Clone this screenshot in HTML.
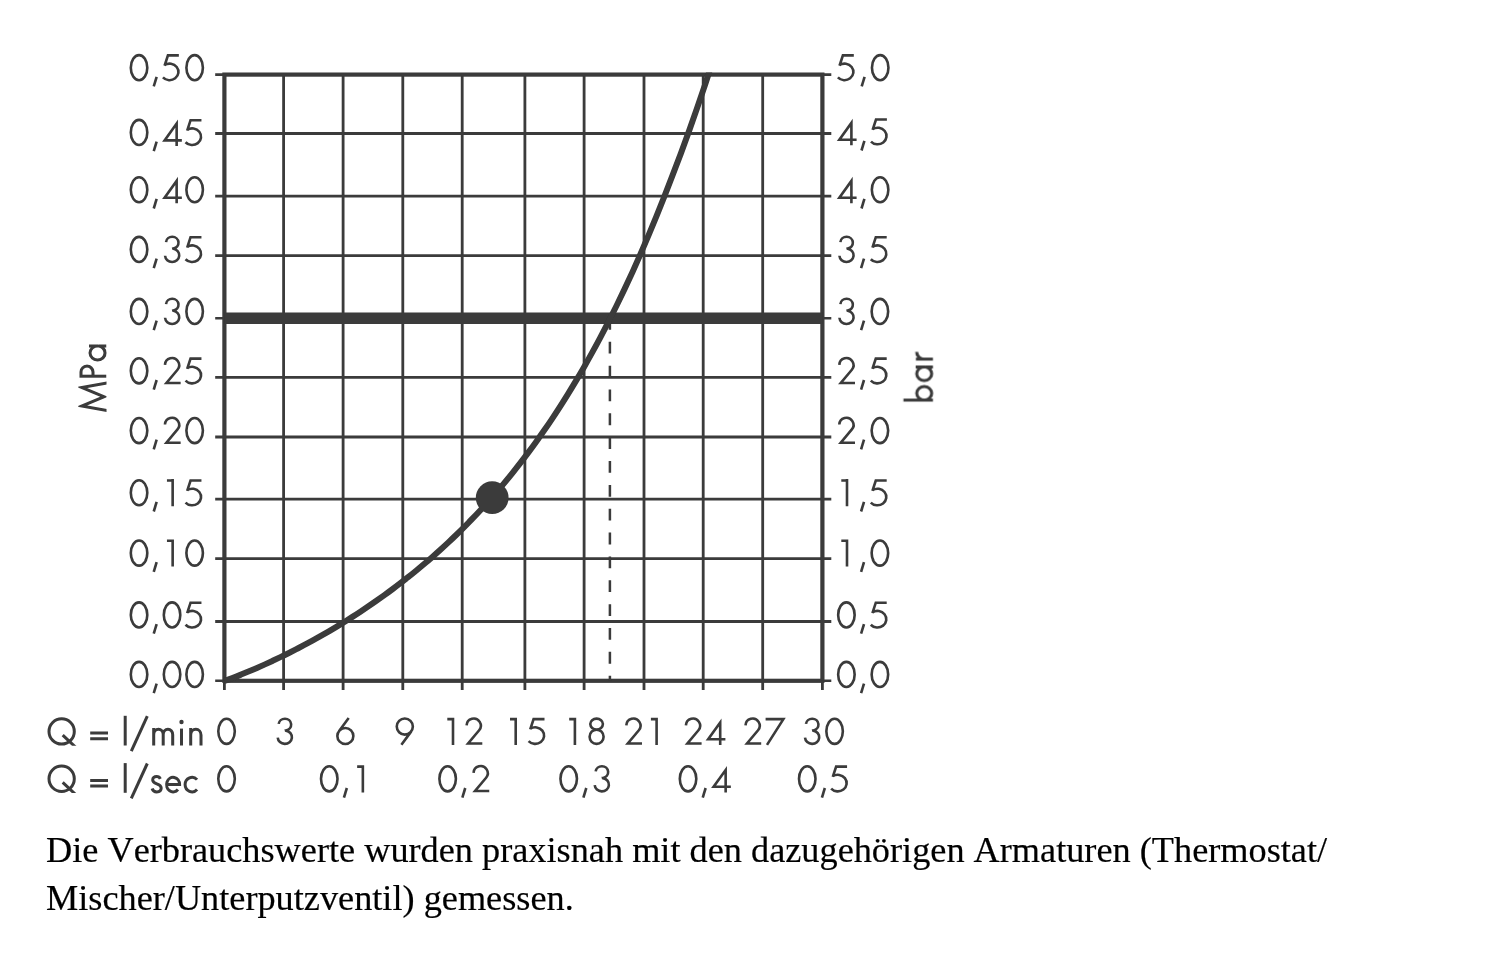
<!DOCTYPE html>
<html lang="de"><head><meta charset="utf-8"><title>Durchflussdiagramm</title>
<style>
html,body{margin:0;padding:0;background:#fff;}
body{width:1500px;height:956px;position:relative;overflow:hidden;font-family:"Liberation Serif",serif;}
.note{position:absolute;left:46.3px;top:826px;margin:0;font-family:"Liberation Serif",serif;font-size:36.28px;line-height:48px;will-change:transform;color:#000;white-space:nowrap;font-kerning:none;font-variant-ligatures:none;-webkit-text-stroke:0.2px #000;filter:blur(0.4px);}
.l2{letter-spacing:0;}
.w{position:relative;}
</style></head><body>
<svg width="1500" height="956" viewBox="0 0 1500 956" style="position:absolute;left:0;top:0">
<defs><filter id="soft" x="0" y="0" width="1500" height="956" filterUnits="userSpaceOnUse"><feGaussianBlur stdDeviation="0.42"/></filter><clipPath id="plot"><rect x="210" y="72.5" width="640" height="620"/></clipPath></defs>
<g filter="url(#soft)">
<g stroke="#3a3a3a" fill="none">
<line x1="283.6" y1="74.6" x2="283.6" y2="690.0" stroke-width="2.8"/>
<line x1="343.1" y1="74.6" x2="343.1" y2="690.0" stroke-width="2.8"/>
<line x1="402.8" y1="74.6" x2="402.8" y2="690.0" stroke-width="2.8"/>
<line x1="462.2" y1="74.6" x2="462.2" y2="690.0" stroke-width="2.8"/>
<line x1="524.9" y1="74.6" x2="524.9" y2="690.0" stroke-width="2.8"/>
<line x1="584.1" y1="74.6" x2="584.1" y2="690.0" stroke-width="2.8"/>
<line x1="644.0" y1="74.6" x2="644.0" y2="690.0" stroke-width="2.8"/>
<line x1="703.2" y1="74.6" x2="703.2" y2="690.0" stroke-width="2.8"/>
<line x1="762.7" y1="74.6" x2="762.7" y2="690.0" stroke-width="2.8"/>
<line x1="215.2" y1="133.5" x2="831.3" y2="133.5" stroke-width="2.8"/>
<line x1="215.2" y1="196.1" x2="831.3" y2="196.1" stroke-width="2.8"/>
<line x1="215.2" y1="255.7" x2="831.3" y2="255.7" stroke-width="2.8"/>
<line x1="215.2" y1="377.4" x2="831.3" y2="377.4" stroke-width="2.8"/>
<line x1="215.2" y1="437.0" x2="831.3" y2="437.0" stroke-width="2.8"/>
<line x1="215.2" y1="499.2" x2="831.3" y2="499.2" stroke-width="2.8"/>
<line x1="215.2" y1="558.7" x2="831.3" y2="558.7" stroke-width="2.8"/>
<line x1="215.2" y1="621.5" x2="831.3" y2="621.5" stroke-width="2.8"/>
<line x1="215.2" y1="74.6" x2="831.3" y2="74.6" stroke-width="2.6"/>
<line x1="215.2" y1="680.8" x2="831.3" y2="680.8" stroke-width="2.6"/>
<line x1="215.2" y1="318.2" x2="831.3" y2="318.2" stroke-width="2.6"/>
<rect x="224.4" y="74.6" width="598.0" height="606.2" stroke-width="4.2"/>
<line x1="224.4" y1="680.8" x2="224.4" y2="690" stroke-width="2.8"/>
<line x1="822.4" y1="680.8" x2="822.4" y2="690" stroke-width="2.8"/>
<line x1="224.4" y1="318.2" x2="822.4" y2="318.2" stroke-width="11.4"/>
<line x1="609.9" y1="317.95" x2="609.9" y2="680.8" stroke-width="2.5" stroke-dasharray="11.8 12.05"/>
<path d="M224.40 681.00 C225.73 680.50 229.73 679.02 232.40 677.99 C235.07 676.97 237.73 675.92 240.40 674.85 C243.07 673.78 245.73 672.69 248.40 671.57 C251.07 670.46 253.73 669.32 256.40 668.16 C259.07 667.00 261.73 665.82 264.40 664.62 C267.07 663.42 269.73 662.19 272.40 660.95 C275.07 659.70 277.73 658.43 280.40 657.14 C283.07 655.86 285.73 654.54 288.40 653.21 C291.07 651.88 293.73 650.53 296.40 649.15 C299.07 647.77 301.73 646.38 304.40 644.96 C307.07 643.53 309.73 642.09 312.40 640.63 C315.07 639.16 317.73 637.67 320.40 636.16 C323.07 634.65 325.73 633.12 328.40 631.56 C331.07 630.00 333.73 628.42 336.40 626.82 C339.07 625.21 341.73 623.58 344.40 621.93 C347.07 620.27 349.73 618.60 352.40 616.89 C355.07 615.19 357.73 613.45 360.40 611.70 C363.07 609.94 365.73 608.15 368.40 606.34 C371.07 604.53 373.73 602.69 376.40 600.82 C379.07 598.95 381.73 597.06 384.40 595.13 C387.07 593.20 389.73 591.24 392.40 589.25 C395.07 587.27 397.73 585.25 400.40 583.19 C403.07 581.14 405.73 579.06 408.40 576.94 C411.07 574.82 413.73 572.66 416.40 570.47 C419.07 568.28 421.73 566.06 424.40 563.80 C427.07 561.54 429.73 559.24 432.40 556.90 C435.07 554.56 437.73 552.19 440.40 549.77 C443.07 547.35 445.73 544.89 448.40 542.39 C451.07 539.89 453.73 537.34 456.40 534.76 C459.07 532.17 461.73 529.53 464.40 526.85 C467.07 524.17 469.73 521.45 472.40 518.67 C475.07 515.90 477.73 513.07 480.40 510.20 C483.07 507.32 485.73 504.39 488.40 501.41 C491.07 498.43 493.73 495.40 496.40 492.31 C499.07 489.22 501.73 486.07 504.40 482.87 C507.07 479.66 509.73 476.40 512.40 473.08 C515.07 469.75 517.73 466.37 520.40 462.92 C523.07 459.47 525.73 455.96 528.40 452.38 C531.07 448.80 533.73 445.16 536.40 441.44 C539.07 437.73 541.73 433.94 544.40 430.08 C547.07 426.23 549.73 422.30 552.40 418.29 C555.07 414.29 557.73 410.21 560.40 406.05 C563.07 401.89 565.73 397.65 568.40 393.33 C571.07 389.01 573.73 384.61 576.40 380.12 C579.07 375.63 581.73 371.06 584.40 366.40 C587.07 361.74 589.73 356.99 592.40 352.15 C595.07 347.31 597.73 342.37 600.40 337.34 C603.07 332.31 605.73 327.19 608.40 321.96 C611.07 316.74 613.73 311.41 616.40 305.99 C619.07 300.56 621.73 295.03 624.40 289.39 C627.07 283.75 629.73 278.01 632.40 272.15 C635.07 266.29 637.73 260.32 640.40 254.24 C643.07 248.16 645.73 241.96 648.40 235.64 C651.07 229.32 653.73 222.89 656.40 216.33 C659.07 209.77 661.71 203.09 664.40 196.27 C667.09 189.46 669.79 182.52 672.51 175.45 C675.23 168.38 677.98 161.18 680.71 153.83 C683.44 146.49 686.18 139.02 688.91 131.40 C691.64 123.78 694.38 116.02 697.11 108.11 C699.84 100.20 702.58 92.15 705.31 83.95 C708.04 75.74 710.78 67.39 713.51 58.88 C716.24 50.37 720.34 37.21 721.71 32.88" stroke-width="6.0" clip-path="url(#plot)"/>
</g>
<circle cx="492.2" cy="497.7" r="16.35" fill="#3a3a3a"/>
<g stroke="#3a3a3a" fill="none" stroke-width="2.6" stroke-linejoin="miter" stroke-linecap="butt">
<path transform="translate(127.75 81.20)" d="M3.05 -13.55a8.25 12.55 0 1 0 16.5 0a8.25 12.55 0 1 0 -16.5 0z"/>
<path transform="translate(150.35 81.20)" d="M6.3 -4.4L3.4 5.2"/>
<path transform="translate(160.75 81.20)" d="M18.10 -25.8H7.20L3.83 -15.44M3.82 -16.18A8.90 8.30 0 0 1 15.94 -14.26A8.90 8.30 0 0 1 14.44 -2.88A8.90 8.30 0 0 1 2.19 -3.75"/>
<path transform="translate(183.35 81.20)" d="M3.05 -13.55a8.25 12.55 0 1 0 16.5 0a8.25 12.55 0 1 0 -16.5 0z"/>
<path transform="translate(127.75 146.00)" d="M3.05 -13.55a8.25 12.55 0 1 0 16.5 0a8.25 12.55 0 1 0 -16.5 0z"/>
<path transform="translate(150.35 146.00)" d="M6.3 -4.4L3.4 5.2"/>
<path transform="translate(160.75 146.00)" d="M21.10 -5.6H3.85L15.90 -22.4V0"/>
<path transform="translate(183.35 146.00)" d="M18.10 -25.8H7.20L3.83 -15.44M3.82 -16.18A8.90 8.30 0 0 1 15.94 -14.26A8.90 8.30 0 0 1 14.44 -2.88A8.90 8.30 0 0 1 2.19 -3.75"/>
<path transform="translate(127.75 203.30)" d="M3.05 -13.55a8.25 12.55 0 1 0 16.5 0a8.25 12.55 0 1 0 -16.5 0z"/>
<path transform="translate(150.35 203.30)" d="M6.3 -4.4L3.4 5.2"/>
<path transform="translate(160.75 203.30)" d="M21.10 -5.6H3.85L15.90 -22.4V0"/>
<path transform="translate(183.35 203.30)" d="M3.05 -13.55a8.25 12.55 0 1 0 16.5 0a8.25 12.55 0 1 0 -16.5 0z"/>
<path transform="translate(127.75 263.00)" d="M3.05 -13.55a8.25 12.55 0 1 0 16.5 0a8.25 12.55 0 1 0 -16.5 0z"/>
<path transform="translate(150.35 263.00)" d="M6.3 -4.4L3.4 5.2"/>
<path transform="translate(160.75 263.00)" d="M5.28 -20.92A6.25 5.90 0 0 1 11.57 -26.20A6.25 5.90 0 0 1 17.73 -20.78A6.25 5.90 0 0 1 12.59 -14.49L12.63 -14.30A7.10 6.70 0 0 1 18.47 -7.08A7.10 6.70 0 0 1 11.32 -1.00A7.10 6.70 0 0 1 4.32 -7.23"/>
<path transform="translate(183.35 263.00)" d="M18.10 -25.8H7.20L3.83 -15.44M3.82 -16.18A8.90 8.30 0 0 1 15.94 -14.26A8.90 8.30 0 0 1 14.44 -2.88A8.90 8.30 0 0 1 2.19 -3.75"/>
<path transform="translate(127.75 325.00)" d="M3.05 -13.55a8.25 12.55 0 1 0 16.5 0a8.25 12.55 0 1 0 -16.5 0z"/>
<path transform="translate(150.35 325.00)" d="M6.3 -4.4L3.4 5.2"/>
<path transform="translate(160.75 325.00)" d="M5.28 -20.92A6.25 5.90 0 0 1 11.57 -26.20A6.25 5.90 0 0 1 17.73 -20.78A6.25 5.90 0 0 1 12.59 -14.49L12.63 -14.30A7.10 6.70 0 0 1 18.47 -7.08A7.10 6.70 0 0 1 11.32 -1.00A7.10 6.70 0 0 1 4.32 -7.23"/>
<path transform="translate(183.35 325.00)" d="M3.05 -13.55a8.25 12.55 0 1 0 16.5 0a8.25 12.55 0 1 0 -16.5 0z"/>
<path transform="translate(127.75 384.40)" d="M3.05 -13.55a8.25 12.55 0 1 0 16.5 0a8.25 12.55 0 1 0 -16.5 0z"/>
<path transform="translate(150.35 384.40)" d="M6.3 -4.4L3.4 5.2"/>
<path transform="translate(160.75 384.40)" d="M4.21 -19.57A7.10 7.10 0 0 1 9.50 -26.07A7.10 7.10 0 0 1 17.29 -23.01A7.10 7.10 0 0 1 16.75 -14.65L5.70 -1.40H19.90"/>
<path transform="translate(183.35 384.40)" d="M18.10 -25.8H7.20L3.83 -15.44M3.82 -16.18A8.90 8.30 0 0 1 15.94 -14.26A8.90 8.30 0 0 1 14.44 -2.88A8.90 8.30 0 0 1 2.19 -3.75"/>
<path transform="translate(127.75 444.10)" d="M3.05 -13.55a8.25 12.55 0 1 0 16.5 0a8.25 12.55 0 1 0 -16.5 0z"/>
<path transform="translate(150.35 444.10)" d="M6.3 -4.4L3.4 5.2"/>
<path transform="translate(160.75 444.10)" d="M4.21 -19.57A7.10 7.10 0 0 1 9.50 -26.07A7.10 7.10 0 0 1 17.29 -23.01A7.10 7.10 0 0 1 16.75 -14.65L5.70 -1.40H19.90"/>
<path transform="translate(183.35 444.10)" d="M3.05 -13.55a8.25 12.55 0 1 0 16.5 0a8.25 12.55 0 1 0 -16.5 0z"/>
<path transform="translate(127.75 506.30)" d="M3.05 -13.55a8.25 12.55 0 1 0 16.5 0a8.25 12.55 0 1 0 -16.5 0z"/>
<path transform="translate(150.35 506.30)" d="M6.3 -4.4L3.4 5.2"/>
<path transform="translate(160.75 506.30)" d="M6.20 -25.8H11.90M11.90 -27.2V0"/>
<path transform="translate(183.35 506.30)" d="M18.10 -25.8H7.20L3.83 -15.44M3.82 -16.18A8.90 8.30 0 0 1 15.94 -14.26A8.90 8.30 0 0 1 14.44 -2.88A8.90 8.30 0 0 1 2.19 -3.75"/>
<path transform="translate(127.75 566.60)" d="M3.05 -13.55a8.25 12.55 0 1 0 16.5 0a8.25 12.55 0 1 0 -16.5 0z"/>
<path transform="translate(150.35 566.60)" d="M6.3 -4.4L3.4 5.2"/>
<path transform="translate(160.75 566.60)" d="M6.20 -25.8H11.90M11.90 -27.2V0"/>
<path transform="translate(183.35 566.60)" d="M3.05 -13.55a8.25 12.55 0 1 0 16.5 0a8.25 12.55 0 1 0 -16.5 0z"/>
<path transform="translate(127.75 628.50)" d="M3.05 -13.55a8.25 12.55 0 1 0 16.5 0a8.25 12.55 0 1 0 -16.5 0z"/>
<path transform="translate(150.35 628.50)" d="M6.3 -4.4L3.4 5.2"/>
<path transform="translate(160.75 628.50)" d="M3.05 -13.55a8.25 12.55 0 1 0 16.5 0a8.25 12.55 0 1 0 -16.5 0z"/>
<path transform="translate(183.35 628.50)" d="M18.10 -25.8H7.20L3.83 -15.44M3.82 -16.18A8.90 8.30 0 0 1 15.94 -14.26A8.90 8.30 0 0 1 14.44 -2.88A8.90 8.30 0 0 1 2.19 -3.75"/>
<path transform="translate(127.75 688.00)" d="M3.05 -13.55a8.25 12.55 0 1 0 16.5 0a8.25 12.55 0 1 0 -16.5 0z"/>
<path transform="translate(150.35 688.00)" d="M6.3 -4.4L3.4 5.2"/>
<path transform="translate(160.75 688.00)" d="M3.05 -13.55a8.25 12.55 0 1 0 16.5 0a8.25 12.55 0 1 0 -16.5 0z"/>
<path transform="translate(183.35 688.00)" d="M3.05 -13.55a8.25 12.55 0 1 0 16.5 0a8.25 12.55 0 1 0 -16.5 0z"/>
<path transform="translate(835.70 81.20)" d="M18.10 -25.8H7.20L3.83 -15.44M3.82 -16.18A8.90 8.30 0 0 1 15.94 -14.26A8.90 8.30 0 0 1 14.44 -2.88A8.90 8.30 0 0 1 2.19 -3.75"/>
<path transform="translate(858.30 81.20)" d="M6.3 -4.4L3.4 5.2"/>
<path transform="translate(868.90 81.20)" d="M3.05 -13.55a8.25 12.55 0 1 0 16.5 0a8.25 12.55 0 1 0 -16.5 0z"/>
<path transform="translate(835.50 145.30)" d="M21.10 -5.6H3.85L15.90 -22.4V0"/>
<path transform="translate(858.10 145.30)" d="M6.3 -4.4L3.4 5.2"/>
<path transform="translate(868.80 145.30)" d="M18.10 -25.8H7.20L3.83 -15.44M3.82 -16.18A8.90 8.30 0 0 1 15.94 -14.26A8.90 8.30 0 0 1 14.44 -2.88A8.90 8.30 0 0 1 2.19 -3.75"/>
<path transform="translate(835.50 203.30)" d="M21.10 -5.6H3.85L15.90 -22.4V0"/>
<path transform="translate(858.10 203.30)" d="M6.3 -4.4L3.4 5.2"/>
<path transform="translate(868.80 203.30)" d="M3.05 -13.55a8.25 12.55 0 1 0 16.5 0a8.25 12.55 0 1 0 -16.5 0z"/>
<path transform="translate(835.10 263.00)" d="M5.28 -20.92A6.25 5.90 0 0 1 11.57 -26.20A6.25 5.90 0 0 1 17.73 -20.78A6.25 5.90 0 0 1 12.59 -14.49L12.63 -14.30A7.10 6.70 0 0 1 18.47 -7.08A7.10 6.70 0 0 1 11.32 -1.00A7.10 6.70 0 0 1 4.32 -7.23"/>
<path transform="translate(857.70 263.00)" d="M6.3 -4.4L3.4 5.2"/>
<path transform="translate(868.60 263.00)" d="M18.10 -25.8H7.20L3.83 -15.44M3.82 -16.18A8.90 8.30 0 0 1 15.94 -14.26A8.90 8.30 0 0 1 14.44 -2.88A8.90 8.30 0 0 1 2.19 -3.75"/>
<path transform="translate(835.10 325.00)" d="M5.28 -20.92A6.25 5.90 0 0 1 11.57 -26.20A6.25 5.90 0 0 1 17.73 -20.78A6.25 5.90 0 0 1 12.59 -14.49L12.63 -14.30A7.10 6.70 0 0 1 18.47 -7.08A7.10 6.70 0 0 1 11.32 -1.00A7.10 6.70 0 0 1 4.32 -7.23"/>
<path transform="translate(857.70 325.00)" d="M6.3 -4.4L3.4 5.2"/>
<path transform="translate(868.60 325.00)" d="M3.05 -13.55a8.25 12.55 0 1 0 16.5 0a8.25 12.55 0 1 0 -16.5 0z"/>
<path transform="translate(835.10 384.40)" d="M4.21 -19.57A7.10 7.10 0 0 1 9.50 -26.07A7.10 7.10 0 0 1 17.29 -23.01A7.10 7.10 0 0 1 16.75 -14.65L5.70 -1.40H19.90"/>
<path transform="translate(857.70 384.40)" d="M6.3 -4.4L3.4 5.2"/>
<path transform="translate(868.60 384.40)" d="M18.10 -25.8H7.20L3.83 -15.44M3.82 -16.18A8.90 8.30 0 0 1 15.94 -14.26A8.90 8.30 0 0 1 14.44 -2.88A8.90 8.30 0 0 1 2.19 -3.75"/>
<path transform="translate(835.10 444.10)" d="M4.21 -19.57A7.10 7.10 0 0 1 9.50 -26.07A7.10 7.10 0 0 1 17.29 -23.01A7.10 7.10 0 0 1 16.75 -14.65L5.70 -1.40H19.90"/>
<path transform="translate(857.70 444.10)" d="M6.3 -4.4L3.4 5.2"/>
<path transform="translate(868.60 444.10)" d="M3.05 -13.55a8.25 12.55 0 1 0 16.5 0a8.25 12.55 0 1 0 -16.5 0z"/>
<path transform="translate(835.10 506.30)" d="M6.20 -25.8H11.90M11.90 -27.2V0"/>
<path transform="translate(857.70 506.30)" d="M6.3 -4.4L3.4 5.2"/>
<path transform="translate(868.60 506.30)" d="M18.10 -25.8H7.20L3.83 -15.44M3.82 -16.18A8.90 8.30 0 0 1 15.94 -14.26A8.90 8.30 0 0 1 14.44 -2.88A8.90 8.30 0 0 1 2.19 -3.75"/>
<path transform="translate(835.10 566.60)" d="M6.20 -25.8H11.90M11.90 -27.2V0"/>
<path transform="translate(857.70 566.60)" d="M6.3 -4.4L3.4 5.2"/>
<path transform="translate(868.60 566.60)" d="M3.05 -13.55a8.25 12.55 0 1 0 16.5 0a8.25 12.55 0 1 0 -16.5 0z"/>
<path transform="translate(835.10 628.50)" d="M3.05 -13.55a8.25 12.55 0 1 0 16.5 0a8.25 12.55 0 1 0 -16.5 0z"/>
<path transform="translate(857.70 628.50)" d="M6.3 -4.4L3.4 5.2"/>
<path transform="translate(868.60 628.50)" d="M18.10 -25.8H7.20L3.83 -15.44M3.82 -16.18A8.90 8.30 0 0 1 15.94 -14.26A8.90 8.30 0 0 1 14.44 -2.88A8.90 8.30 0 0 1 2.19 -3.75"/>
<path transform="translate(835.10 688.00)" d="M3.05 -13.55a8.25 12.55 0 1 0 16.5 0a8.25 12.55 0 1 0 -16.5 0z"/>
<path transform="translate(857.70 688.00)" d="M6.3 -4.4L3.4 5.2"/>
<path transform="translate(868.60 688.00)" d="M3.05 -13.55a8.25 12.55 0 1 0 16.5 0a8.25 12.55 0 1 0 -16.5 0z"/>
<path transform="translate(215.25 744.90)" d="M3.05 -13.55a8.25 12.55 0 1 0 16.5 0a8.25 12.55 0 1 0 -16.5 0z"/>
<path transform="translate(273.40 744.90)" d="M5.28 -20.92A6.25 5.90 0 0 1 11.57 -26.20A6.25 5.90 0 0 1 17.73 -20.78A6.25 5.90 0 0 1 12.59 -14.49L12.63 -14.30A7.10 6.70 0 0 1 18.47 -7.08A7.10 6.70 0 0 1 11.32 -1.00A7.10 6.70 0 0 1 4.32 -7.23"/>
<path transform="translate(334.05 744.90)" d="M14.65 -26.90L4.87 -13.65M3.30 -8.90a8.00 8.00 0 1 0 16.00 0a8.00 8.00 0 1 0 -16.00 0z"/>
<path transform="translate(393.50 744.90)" d="M7.90 -0.20L17.77 -13.51M3.25 -18.30a8.05 8.05 0 1 0 16.10 0a8.05 8.05 0 1 0 -16.10 0z"/>
<path transform="translate(441.10 744.90)" d="M6.20 -25.8H11.90M11.90 -27.2V0"/>
<path transform="translate(462.40 744.90)" d="M4.21 -19.57A7.10 7.10 0 0 1 9.50 -26.07A7.10 7.10 0 0 1 17.29 -23.01A7.10 7.10 0 0 1 16.75 -14.65L5.70 -1.40H19.90"/>
<path transform="translate(503.80 744.90)" d="M6.20 -25.8H11.90M11.90 -27.2V0"/>
<path transform="translate(526.40 744.90)" d="M18.10 -25.8H7.20L3.83 -15.44M3.82 -16.18A8.90 8.30 0 0 1 15.94 -14.26A8.90 8.30 0 0 1 14.44 -2.88A8.90 8.30 0 0 1 2.19 -3.75"/>
<path transform="translate(563.00 744.90)" d="M6.20 -25.8H11.90M11.90 -27.2V0"/>
<path transform="translate(585.60 744.90)" d="M4.70 -20.80a6.3 5.5 0 1 0 12.6 0a6.3 5.5 0 1 0 -12.6 0zM4.00 -8.15a7.0 7.15 0 1 0 14.0 0a7.0 7.15 0 1 0 -14.0 0z"/>
<path transform="translate(622.10 744.90)" d="M4.21 -19.57A7.10 7.10 0 0 1 9.50 -26.07A7.10 7.10 0 0 1 17.29 -23.01A7.10 7.10 0 0 1 16.75 -14.65L5.70 -1.40H19.90"/>
<path transform="translate(644.70 744.90)" d="M6.20 -25.8H11.90M11.90 -27.2V0"/>
<path transform="translate(681.70 744.90)" d="M4.21 -19.57A7.10 7.10 0 0 1 9.50 -26.07A7.10 7.10 0 0 1 17.29 -23.01A7.10 7.10 0 0 1 16.75 -14.65L5.70 -1.40H19.90"/>
<path transform="translate(704.30 744.90)" d="M21.10 -5.6H3.85L15.90 -22.4V0"/>
<path transform="translate(741.30 744.90)" d="M4.21 -19.57A7.10 7.10 0 0 1 9.50 -26.07A7.10 7.10 0 0 1 17.29 -23.01A7.10 7.10 0 0 1 16.75 -14.65L5.70 -1.40H19.90"/>
<path transform="translate(763.90 744.90)" d="M1.70 -25.8H19.50L3.10 0"/>
<path transform="translate(800.70 744.90)" d="M5.28 -20.92A6.25 5.90 0 0 1 11.57 -26.20A6.25 5.90 0 0 1 17.73 -20.78A6.25 5.90 0 0 1 12.59 -14.49L12.63 -14.30A7.10 6.70 0 0 1 18.47 -7.08A7.10 6.70 0 0 1 11.32 -1.00A7.10 6.70 0 0 1 4.32 -7.23"/>
<path transform="translate(823.30 744.90)" d="M3.05 -13.55a8.25 12.55 0 1 0 16.5 0a8.25 12.55 0 1 0 -16.5 0z"/>
<path transform="translate(215.25 792.40)" d="M3.05 -13.55a8.25 12.55 0 1 0 16.5 0a8.25 12.55 0 1 0 -16.5 0z"/>
<path transform="translate(317.95 792.40)" d="M3.05 -13.55a8.25 12.55 0 1 0 16.5 0a8.25 12.55 0 1 0 -16.5 0z"/>
<path transform="translate(340.55 792.40)" d="M6.3 -4.4L3.4 5.2"/>
<path transform="translate(350.95 792.40)" d="M6.20 -25.8H11.90M11.90 -27.2V0"/>
<path transform="translate(436.35 792.40)" d="M3.05 -13.55a8.25 12.55 0 1 0 16.5 0a8.25 12.55 0 1 0 -16.5 0z"/>
<path transform="translate(458.95 792.40)" d="M6.3 -4.4L3.4 5.2"/>
<path transform="translate(469.35 792.40)" d="M4.21 -19.57A7.10 7.10 0 0 1 9.50 -26.07A7.10 7.10 0 0 1 17.29 -23.01A7.10 7.10 0 0 1 16.75 -14.65L5.70 -1.40H19.90"/>
<path transform="translate(557.40 792.40)" d="M3.05 -13.55a8.25 12.55 0 1 0 16.5 0a8.25 12.55 0 1 0 -16.5 0z"/>
<path transform="translate(580.00 792.40)" d="M6.3 -4.4L3.4 5.2"/>
<path transform="translate(590.40 792.40)" d="M5.28 -20.92A6.25 5.90 0 0 1 11.57 -26.20A6.25 5.90 0 0 1 17.73 -20.78A6.25 5.90 0 0 1 12.59 -14.49L12.63 -14.30A7.10 6.70 0 0 1 18.47 -7.08A7.10 6.70 0 0 1 11.32 -1.00A7.10 6.70 0 0 1 4.32 -7.23"/>
<path transform="translate(676.75 792.40)" d="M3.05 -13.55a8.25 12.55 0 1 0 16.5 0a8.25 12.55 0 1 0 -16.5 0z"/>
<path transform="translate(699.35 792.40)" d="M6.3 -4.4L3.4 5.2"/>
<path transform="translate(709.75 792.40)" d="M21.10 -5.6H3.85L15.90 -22.4V0"/>
<path transform="translate(795.95 792.40)" d="M3.05 -13.55a8.25 12.55 0 1 0 16.5 0a8.25 12.55 0 1 0 -16.5 0z"/>
<path transform="translate(818.55 792.40)" d="M6.3 -4.4L3.4 5.2"/>
<path transform="translate(828.95 792.40)" d="M18.10 -25.8H7.20L3.83 -15.44M3.82 -16.18A8.90 8.30 0 0 1 15.94 -14.26A8.90 8.30 0 0 1 14.44 -2.88A8.90 8.30 0 0 1 2.19 -3.75"/>
<clipPath id="bclip"><rect x="-5" y="-40" width="70" height="40.5"/></clipPath>
<g stroke-width="3.0">
<path transform="translate(47.60 745.20)" d="M1.40 -13.75a12.65 12.65 0 1 0 25.30 0a12.65 12.65 0 1 0 -25.30 0z"/>
<path transform="translate(47.60 745.20)" d="M15.1 -10.1L28.5 2.47" clip-path="url(#bclip)"/>
<path transform="translate(90.20 745.20)" d="M0 -12.1H17.8M0 -6.5H17.8"/>
<path transform="translate(123.80 745.20)" d="M1.4 -29.4V0.3"/>
<path transform="translate(130.30 745.20)" d="M17.0 -29.0L1.0 5.9"/>
<path transform="translate(47.60 792.50)" d="M1.40 -13.75a12.65 12.65 0 1 0 25.30 0a12.65 12.65 0 1 0 -25.30 0z"/>
<path transform="translate(47.60 792.50)" d="M15.1 -10.1L28.5 2.47" clip-path="url(#bclip)"/>
<path transform="translate(90.20 792.50)" d="M0 -12.1H17.8M0 -6.5H17.8"/>
<path transform="translate(123.80 792.50)" d="M1.4 -29.4V0.3"/>
<path transform="translate(130.30 792.50)" d="M17.0 -29.0L1.0 5.9"/>
<path transform="translate(152.20 745.20)" d="M1.50 -17.2V0.3M1.50 -10.55a4.75 5.35 0 0 1 9.50 0V0.3M11.00 -10.55a4.75 5.35 0 0 1 9.50 0V0.3"/>
<path transform="translate(180.00 745.20)" d="M1.5 -16.6V0.3"/>
<circle cx="181.5" cy="722.00" r="2.2" fill="#3a3a3a" stroke="none"/>
<path transform="translate(189.20 745.20)" d="M1.50 -17.2V0.3M1.50 -10.15a5.15 5.75 0 0 1 10.30 0V0.3"/>
<path transform="translate(151.00 792.50)" d="M9.3 -13.6C8.6 -15.3 7.3 -16.0 5.6 -16.0C3.3 -16.0 1.7 -14.6 1.7 -12.5C1.7 -10.3 3.6 -9.5 5.8 -8.7C8.3 -7.8 10.2 -6.9 10.2 -4.5C10.2 -2.0 8.3 -0.6 5.7 -0.6C3.4 -0.6 1.8 -1.8 1.1 -4.0"/>
<path transform="translate(165.10 792.50)" d="M1.50 -7.90H14.50L14.50 -7.90A6.50 7.30 0 0 0 9.18 -15.08A6.50 7.30 0 0 0 1.93 -10.52A6.50 7.30 0 0 0 4.60 -1.68A6.50 7.30 0 0 0 12.83 -3.02"/>
<path transform="translate(183.70 792.50)" d="M13.35 -12.88A6.90 7.30 0 0 0 5.77 -14.69A6.90 7.30 0 0 0 1.40 -7.90A6.90 7.30 0 0 0 5.77 -1.11A6.90 7.30 0 0 0 13.35 -2.92"/>
</g>
<g transform="translate(106 412) rotate(-90)" stroke-width="3.0">
<clipPath id="mclip"><rect x="-1" y="-27.7" width="33" height="28.1"/></clipPath>
<path d="M1.3 2L6.0 -24.2L15.25 -2.0L24.5 -24.2L29.2 2" stroke-miterlimit="20" clip-path="url(#mclip)"/>
<path transform="translate(34.40 0.00)" d="M1.4 0.2V-26.4M1.4 -25.00H5.60a5.95 5.95 0 0 1 0 11.90H1.4"/>
<path transform="translate(50.60 0.00)" d="M1.40 -8.45a7.05 7.50 0 1 0 14.10 0a7.05 7.50 0 1 0 -14.10 0zM15.40 -17.0V0.2"/>
</g>
<g transform="translate(932.7 401.5) rotate(-90)" stroke-width="3.0">
<path transform="translate(0.00 0.00)" d="M1.40 -29.2V0.2M1.40 -8.45a6.80 7.50 0 1 0 13.60 0a6.80 7.50 0 1 0 -13.60 0z"/>
<path transform="translate(19.50 0.00)" d="M1.40 -8.45a6.85 7.50 0 1 0 13.70 0a6.85 7.50 0 1 0 -13.70 0zM15.00 -17.0V0.2"/>
<path transform="translate(41.00 0.00)" d="M1.4 -16.8V0.2M1.4 -9.3A7.2 6.6 0 0 1 8.6 -15.9"/>
</g>
</g>
</g>
</svg>
<p class="note"><span class="l1"><span class="w">Die</span> <span class="w">Verbrauchswerte</span> <span class="w">wurden</span> <span class="w">praxisnah</span> <span class="w">mit</span> <span class="w">den</span> <span class="w">dazugehörigen</span> <span class="w">Armaturen</span> <span class="w">(Thermostat/</span></span><br><span class="l2"><span class="w">Mischer/Unterputzventil)</span> <span class="w">gemessen.</span></span></p>
</body></html>
